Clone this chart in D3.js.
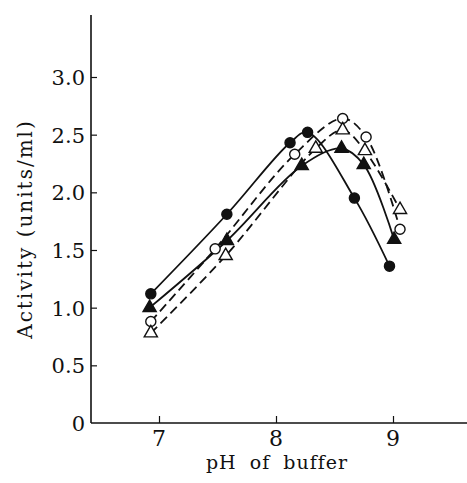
<!DOCTYPE html>
<html><head><meta charset="utf-8">
<script src="https://cdn.jsdelivr.net/npm/d3@7"></script>
<style>body{margin:0;background:#fff}svg{display:block}text{font-family:"DejaVu Serif","Liberation Serif",serif;fill:#111}</style>
</head><body><svg id="c" width="467" height="483"></svg>
<script>
const xTicks = [7, 8, 9];
const yTicks = [0, 0.5, 1.0, 1.5, 2.0, 2.5, 3.0];
const yTickLabels = ["0", "0.5", "1.0", "1.5", "2.0", "2.5", "3.0"];
const filledCircle = [[6.93,1.12],[7.58,1.81],[8.12,2.43],[8.27,2.52],[8.67,1.95],[8.97,1.36]];
const filledTriangle = [[6.92,1.00],[7.58,1.58],[8.22,2.23],[8.56,2.38],[8.75,2.24],[9.01,1.59]];
const openCircle = [[6.93,0.88],[7.48,1.51],[8.16,2.33],[8.57,2.64],[8.77,2.48],[9.06,1.68]];
const openTriangle = [[6.93,0.78],[7.57,1.45],[8.34,2.38],[8.57,2.54],[8.76,2.36],[9.06,1.85]];
const xLabel = "pH of buffer";
const yLabel = "Activity (units/ml)";

const svg = d3.select("#c");
const x = d3.scaleLinear().domain([7, 9]).range([159, 393]);
const y = d3.scaleLinear().domain([0, 3]).range([423, 77]);
const x0 = 91, xEnd = 467, yTop = 15;

const g = svg.append("g");
g.append("line").attr("x1", x0).attr("x2", x0).attr("y1", yTop).attr("y2", y(0)).attr("stroke","#111").attr("stroke-width",1.6);
g.append("line").attr("x1", x0).attr("x2", xEnd).attr("y1", y(0)).attr("y2", y(0)).attr("stroke","#111").attr("stroke-width",1.6);

const yAxis = d3.axisRight(y).tickValues(yTicks.filter(d=>d>0)).tickSize(6).tickFormat("");
const ya = g.append("g").attr("transform",`translate(${x0},0)`).call(yAxis);
ya.select(".domain").remove();
ya.selectAll(".tick line").attr("stroke","#111").attr("stroke-width",1.2);
g.selectAll(".ylab").data(yTicks).enter().append("text")
  .attr("x", 85).attr("y", d=>y(d)+8).attr("text-anchor","end").attr("font-size",21)
  .text((d,i)=>yTickLabels[i]);

const xAxis = d3.axisTop(x).tickValues(xTicks).tickSize(7).tickFormat("");
const xa = g.append("g").attr("transform",`translate(0,${y(0)})`).call(xAxis);
xa.select(".domain").remove();
xa.selectAll(".tick line").attr("stroke","#111").attr("stroke-width",1.2);
g.selectAll(".xlab").data(xTicks).enter().append("text")
  .attr("x", d=>x(d)).attr("y", 446).attr("text-anchor","middle").attr("font-size",22)
  .text(d=>d);

g.append("text").attr("x", 277).attr("y", 469).attr("text-anchor","middle").attr("font-size",19)
  .attr("letter-spacing", 1).attr("word-spacing", 6).text(xLabel);
g.append("text").attr("transform","translate(32,229) rotate(-90)").attr("text-anchor","middle").attr("font-size",20)
  .attr("letter-spacing", 2).text(yLabel);

const line = d3.line().x(d=>x(d[0])).y(d=>y(d[1])).curve(d3.curveCatmullRom.alpha(0.5));
const series = [
  {data: filledCircle, dash: null, shape: "circle", fill: "#111"},
  {data: filledTriangle, dash: null, shape: "triangle", fill: "#111"},
  {data: openCircle, dash: "9,5", shape: "circle", fill: "#fff"},
  {data: openTriangle, dash: "9,5", shape: "triangle", fill: "#fff"}
];
series.forEach(s=>{
  g.append("path").attr("d", line(s.data)).attr("fill","none").attr("stroke","#111")
    .attr("stroke-width",1.8).attr("stroke-dasharray", s.dash);
});
series.forEach(s=>{
  const sym = s.shape === "circle" ? d3.symbol(d3.symbolCircle, 80) : d3.symbol(d3.symbolTriangle, 75);
  g.selectAll(null).data(s.data).enter().append("path")
    .attr("d", sym).attr("transform", d=>`translate(${x(d[0])},${y(d[1])})`)
    .attr("fill", s.fill).attr("stroke","#111").attr("stroke-width",1.4);
});
</script></body></html>
